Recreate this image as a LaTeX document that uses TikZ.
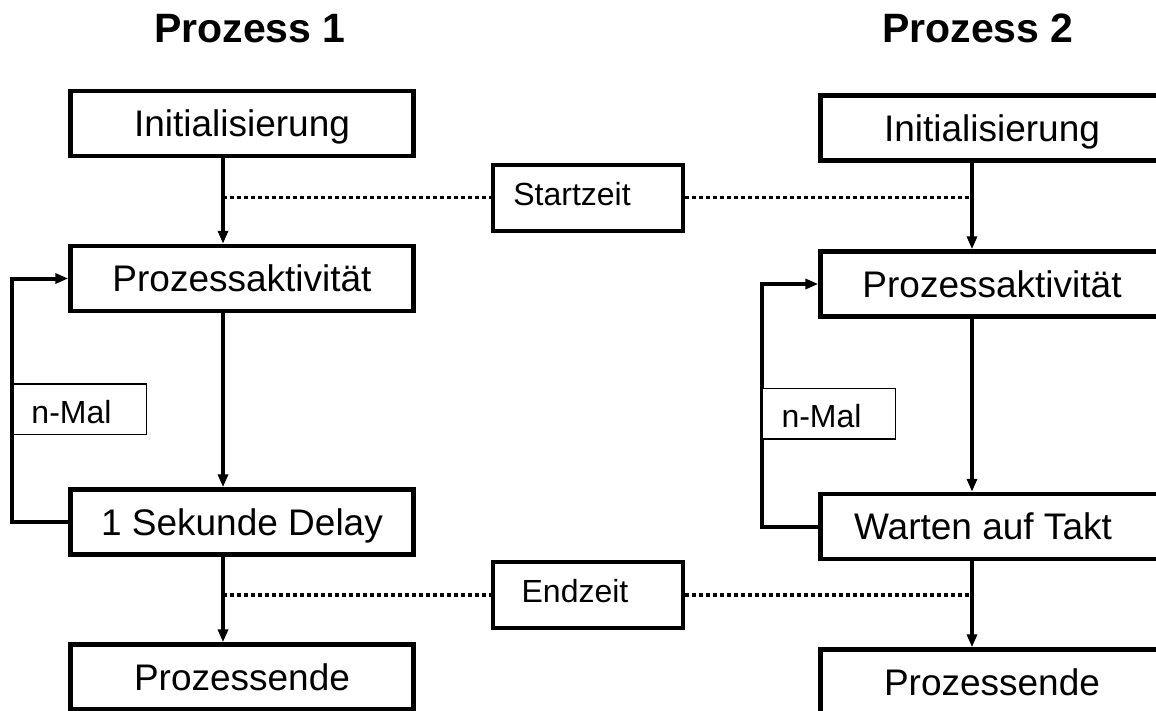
\documentclass[tikz,border=0pt]{standalone}
\usepackage{fontspec}
\setmainfont{Liberation Sans}
\usetikzlibrary{arrows.meta,calc}
\begin{document}
\begin{tikzpicture}[x=1pt,y=-1pt,
  mainbox/.style={draw, line width=4.5pt, minimum width=343pt, minimum height=65pt, inner sep=0pt, text height=26pt, text depth=0pt, font=\fontsize{37}{44}\selectfont, fill=white},
  timebox/.style={draw, line width=4pt, minimum width=190pt, minimum height=66pt, inner sep=0pt, text height=15pt, text depth=0pt, font=\fontsize{32}{38}\selectfont, fill=white},
  countbox/.style={draw, line width=1.5pt, minimum width=133.5pt, minimum height=50.5pt, inner sep=0pt, text height=28pt, text depth=0pt, font=\fontsize{32}{38}\selectfont, fill=white},
  flow/.style={line width=4pt, -{Triangle[length=13pt,width=10pt]}},
  sync/.style={line width=3.5pt, dash pattern=on 4pt off 3pt},
  heading/.style={font=\fontsize{41}{48}\selectfont\bfseries, anchor=base}
]
\useasboundingbox (0,0) rectangle (1156,710);
\clip (0,0) rectangle (1156,710);

% titles
\node[heading] (t1) at (250,42) {Prozess 1};
\node[heading] (t2) at (978,42) {Prozess 2};

% helper coordinates
\coordinate (aL) at (223,0);
\coordinate (aR) at (972,0);
\coordinate (fL) at (12,0);
\coordinate (fR) at (762,0);

% left column
\node[mainbox] (L1) at (242,123.5) {Initialisierung};
\node[mainbox] (L2) at (242,278.5) {Prozessaktivität};
\node[mainbox] (L3) at (242,522) {1 Sekunde Delay};
\node[mainbox] (L4) at (242,677) {Prozessende};

% right column
\node[mainbox] (R1) at (992,128) {Initialisierung};
\node[mainbox] (R2) at (992,284) {Prozessaktivität};
\node[mainbox] (R3) at (992,526.5) {Warten auf Takt\kern18pt};
\node[mainbox] (R4) at (992,682) {Prozessende};

% time boxes
\node[timebox] (S) at (588,197.5) {Startzeit\kern32pt};
\node[timebox] (E) at (588,595) {Endzeit\kern26pt};

% main flow
\draw[flow] (L1.south -| aL) -- (L2.north -| aL);
\draw[flow] (L2.south -| aL) -- (L3.north -| aL);
\draw[flow] (L3.south -| aL) -- (L4.north -| aL);
\draw[flow] (R1.south -| aR) -- (R2.north -| aR);
\draw[flow] (R2.south -| aR) -- (R3.north -| aR);
\draw[flow] (R3.south -| aR) -- (R4.north -| aR);

% synchronisation lines
\draw[sync] (S.west -| aL) -- (S.west);
\draw[sync] (S.east) -- (S.east -| aR);
\draw[sync] (E.west -| aL) -- (E.west);
\draw[sync] (E.east) -- (E.east -| aR);

% loops
\draw[flow] (L3.west) -- (L3.west -| fL) -- (L2.west -| fL) -- (L2.west);
\draw[flow] (R3.west) -- (R3.west -| fR) -- (R2.west -| fR) -- (R2.west);

\node[countbox] (nL) at (79.5,409) {n-Mal\kern16pt};
\node[countbox] (nR) at (828.5,413.5) {n-Mal\kern14pt};
\end{tikzpicture}
\end{document}
